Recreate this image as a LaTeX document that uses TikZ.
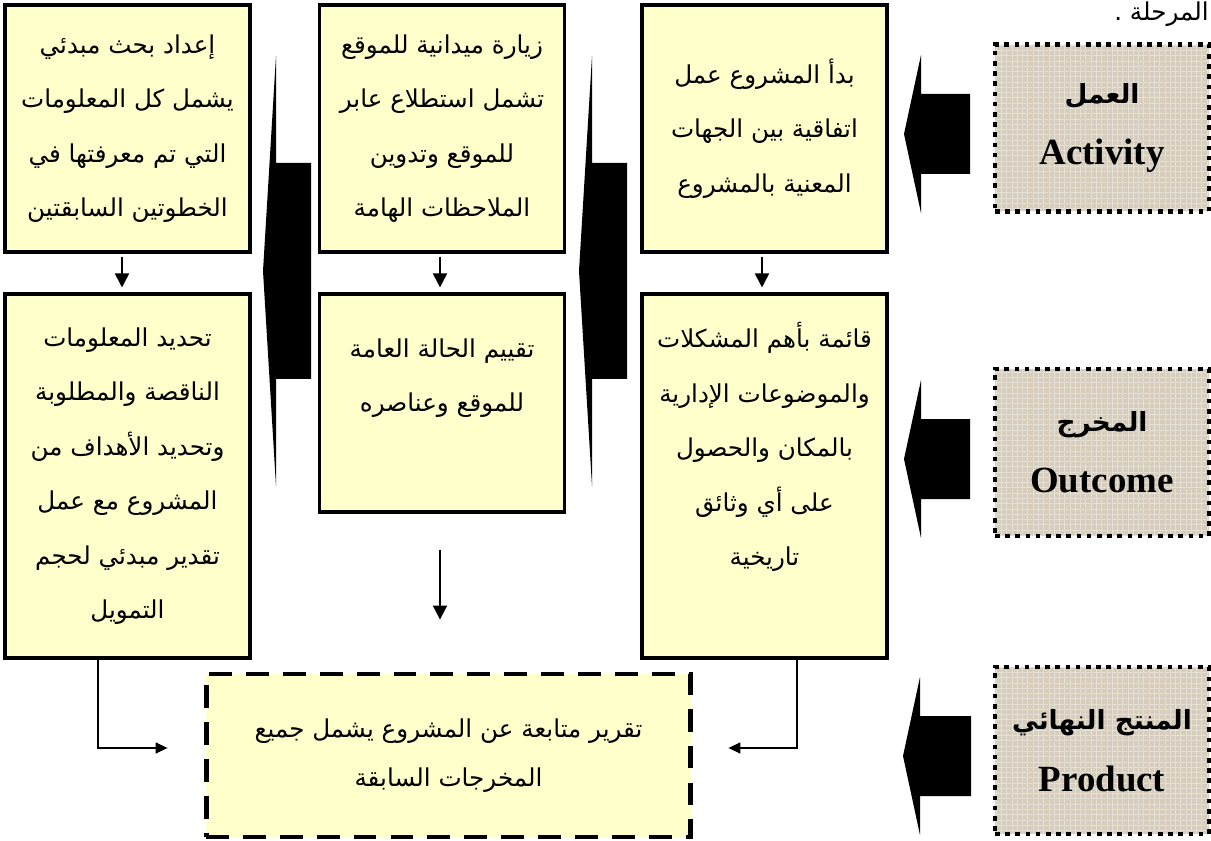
\documentclass[tikz,border=0pt]{standalone}
\usepackage{fontspec}
\setmainfont{Liberation Serif}
\newfontfamily\arabicfont[Script=Arabic]{DejaVu Sans}
\TeXXeTstate=1
\usetikzlibrary{arrows.meta, positioning, patterns}
\definecolor{boxyellow}{HTML}{FFFFCC}
\definecolor{tagbeige}{HTML}{D6CDBD}
\newcommand{\rl}[1]{\beginR #1\endR}
\newcommand{\tagar}{\arabicfont\bfseries\fontsize{15}{20}\selectfont}
\newcommand{\tagen}{\bfseries\fontsize{21}{24}\selectfont}

\begin{document}
\begin{tikzpicture}[x=0.02cm, y=-0.02cm,
    box/.style={rectangle, draw=black, fill=boxyellow, line width=1.8pt,
        minimum width=4.9cm, align=center, inner sep=0pt,
        font=\arabicfont\fontsize{14}{31}\selectfont},
    txt/.style={align=center, inner sep=0pt, font=\arabicfont\fontsize{14}{31}\selectfont},
    finbox/.style={rectangle, draw=black, fill=boxyellow, line width=2.8pt,
        dash pattern=on 13pt off 8pt, minimum width=9.7cm, minimum height=3.26cm,
        align=center, font=\arabicfont\fontsize{14}{28}\selectfont},
    tagbox/.style={rectangle, draw=black, line width=2.6pt,
        preaction={fill=tagbeige}, pattern=grid, pattern color=tagbeige!60!white,
        dash pattern=on 2.6pt off 3.2pt, minimum width=4.28cm, minimum height=3.34cm,
        align=center, inner sep=0pt},
    arr/.style={-{Triangle[length=0.28cm, width=0.28cm]}, line width=1.1pt},
    link/.style={-{Triangle[length=0.24cm, width=0.22cm]}, line width=0.8pt}
]
    \useasboundingbox (0,0) rectangle (1211,841);

    % === top row ===
    \node[box, minimum height=4.94cm] (c) at (127.5,128.5)
        {\rl{إعداد بحث مبدئي}\\\rl{يشمل كل المعلومات}\\\rl{التي تم معرفتها في}\\\rl{الخطوتين السابقتين}};
    \node[box, minimum height=4.94cm] (b) at (442,128.5)
        {\rl{زيارة ميدانية للموقع}\\\rl{تشمل استطلاع عابر}\\\rl{للموقع وتدوين}\\\rl{الملاحظات الهامة}};
    \node[box, minimum height=4.94cm] (a) at (764.5,128.5)
        {\rl{بدأ المشروع عمل}\\\rl{اتفاقية بين الجهات}\\\rl{المعنية بالمشروع}};

    % === second row ===
    \node[box, minimum height=7.28cm] (f) at (127.5,476)
        {\rl{تحديد المعلومات}\\\rl{الناقصة والمطلوبة}\\\rl{وتحديد الأهداف من}\\\rl{المشروع مع عمل}\\\rl{تقدير مبدئي لحجم}\\\rl{التمويل}};
    \node[box, minimum height=4.36cm] (e) at (442,403) {};
    \node[txt] (etext) at (442,378) {\rl{تقييم الحالة العامة}\\\rl{للموقع وعناصره}};
    \node[box, minimum height=7.28cm] (d) at (764.5,476) {};
    \node[txt] (dtext) at (764.5,447)
        {\rl{قائمة بأهم المشكلات}\\\rl{والموضوعات الإدارية}\\\rl{بالمكان والحصول}\\\rl{على أي وثائق}\\\rl{تاريخية}};

    % === final report ===
    \node[finbox] (fin) at (448.5,755.5) {\rl{تقرير متابعة عن المشروع يشمل جميع}\\\rl{المخرجات السابقة}};

    % === stage tags (right) ===
    \node[tagbox] (act) at (1102,128)
        {{\tagar\rl{العمل}}\\[16pt]{\tagen Activity}};
    \node[tagbox] (out) at (1102,452.5)
        {{\tagar\rl{المخرج}}\\[16pt]{\tagen Outcome}};
    \node[tagbox] (prod) at (1102,750.5)
        {{\tagar\rl{المنتج النهائي}}\\[16pt]{\tagen Product}};

    \node[anchor=base east, inner sep=0pt, font=\arabicfont\fontsize{14}{14}\selectfont]
        (stage) at (1209,21) {\rl{المرحلة .}};

    % --- block arrows ---
    \foreach \xt/\xb/\xe/\yc/\hh/\bh in {904/921/970/134/79/40, 904/921/970/459/79/40,
        903/920/971/756/79/40, 579/592/627/271/215/108, 263/276/311/271/215/108}
        \fill (\xt,\yc) -- (\xb,{\yc-\hh}) -- (\xb,{\yc-\bh}) -- (\xe,{\yc-\bh})
            -- (\xe,{\yc+\bh}) -- (\xb,{\yc+\bh}) -- (\xb,{\yc+\hh}) -- cycle;

    % --- down arrows ---
    \draw[arr, shorten <=0.06cm, shorten >=0.1cm] ([xshift=-0.11cm]c.south) -- ([xshift=-0.11cm]f.north);
    \draw[arr, shorten <=0.06cm, shorten >=0.1cm] ([xshift=-0.04cm]b.south) -- ([xshift=-0.04cm]e.north);
    \draw[arr, shorten <=0.06cm, shorten >=0.1cm] ([xshift=-0.05cm]a.south) -- ([xshift=-0.05cm]d.north);
    \draw[arr, shorten <=0.72cm, shorten >=1.04cm] ([xshift=-0.04cm]e.south) -- ([xshift=-0.04cm]e.south |- fin.north);

    % --- links to report ---
    \draw[link, shorten >=0.72cm] ([xshift=-0.59cm]f.south) |- ([yshift=0.15cm]fin.west);
    \draw[link, shorten >=0.7cm] ([xshift=0.65cm]d.south) |- ([yshift=0.15cm]fin.east);
\end{tikzpicture}
\end{document}
